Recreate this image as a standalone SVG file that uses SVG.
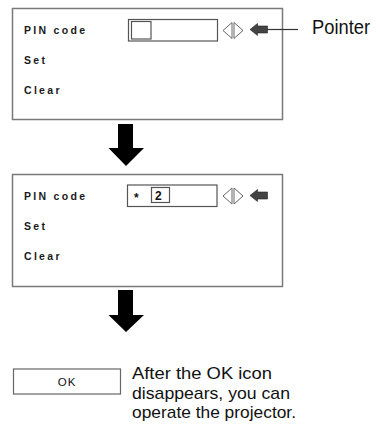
<svg xmlns="http://www.w3.org/2000/svg" width="380" height="425" viewBox="0 0 380 425">
<defs>
<style>
.panel{fill:#fff;stroke:#7a7a7a;stroke-width:1.5}
.field{fill:#fff;stroke:#555;stroke-width:1.2}
.menu{font-family:"Liberation Sans",Arial,sans-serif;font-size:10.5px;font-weight:bold;letter-spacing:2.3px;fill:#1a1a1a}
.cap{font-family:"Liberation Sans",Arial,sans-serif;fill:#111}
.tri{fill:#fff;stroke:#666;stroke-width:1}
.ptr{fill:#444;stroke:#222;stroke-width:0.6}
.big{fill:#000}
</style>
<g id="lr">
<polygon class="tri" points="232,22.5 223,30.5 232,38.5"/>
<polygon class="tri" points="234,22.5 243,30.5 234,38.5"/>
</g>
<path id="pointerIcon" class="ptr" d="M250,30 L257.5,24 L257.5,26.5 L267.5,26.5 L267.5,33.5 L257.5,33.5 L257.5,36 Z"/>
</defs>

<g id="panel1">
<rect class="panel" x="12.5" y="8.5" width="270" height="111"/>
<text class="menu" x="24" y="34">PIN code</text>
<text class="menu" x="24" y="64">Set</text>
<text class="menu" x="24" y="94">Clear</text>
<rect class="field" x="128.5" y="19.5" width="89" height="21.5"/>
<rect class="field" x="131.5" y="21.5" width="19.5" height="17.5" stroke="#888"/>
<use href="#lr"/>
<use href="#pointerIcon" transform="translate(0,-0.5)"/>
</g>

<g id="pointerLabel">
<text class="cap" x="312" y="34" font-size="20" textLength="58" lengthAdjust="spacingAndGlyphs">Pointer</text>
</g>

<g id="panel2">
<rect class="panel" x="12.5" y="174.5" width="270" height="112"/>
<text class="menu" x="24" y="200">PIN code</text>
<text class="menu" x="24" y="230">Set</text>
<text class="menu" x="24" y="260">Clear</text>
<rect class="field" x="127.5" y="185" width="89.5" height="21.5"/>
<text class="cap" x="134" y="202" font-size="12" font-weight="bold">*</text>
<rect class="field" x="151.5" y="187.5" width="18" height="15"/>
<text class="cap" x="155" y="200" font-size="12" font-weight="bold">2</text>
<use href="#lr" transform="translate(0,165.5)"/>
<use href="#pointerIcon" transform="translate(0,165.5)"/>
</g>

<g id="okNode">
<rect x="13.5" y="369" width="107" height="25" fill="#fff" stroke="#666" stroke-width="1.2"/>
<text class="cap" x="67" y="386" font-size="11.5" text-anchor="middle" letter-spacing="1">OK</text>
</g>

<g id="okNote" class="cap" font-size="17">
<text x="132" y="379" textLength="140" lengthAdjust="spacingAndGlyphs">After the OK icon</text>
<text x="132" y="398.5" textLength="158" lengthAdjust="spacingAndGlyphs">disappears, you can</text>
<text x="132" y="418" textLength="164" lengthAdjust="spacingAndGlyphs">operate the projector.</text>
</g>

<g id="connectors">
<line x1="267" y1="29.5" x2="298" y2="29.5" stroke="#333" stroke-width="1.2"/>
<polygon class="big" points="118,124 133,124 133,148 144,148 126,166 108.5,148 118,148"/>
<polygon class="big" points="118,290 133,290 133,315 144,315 126,332 108.5,315 118,315"/>
</g>
</svg>
